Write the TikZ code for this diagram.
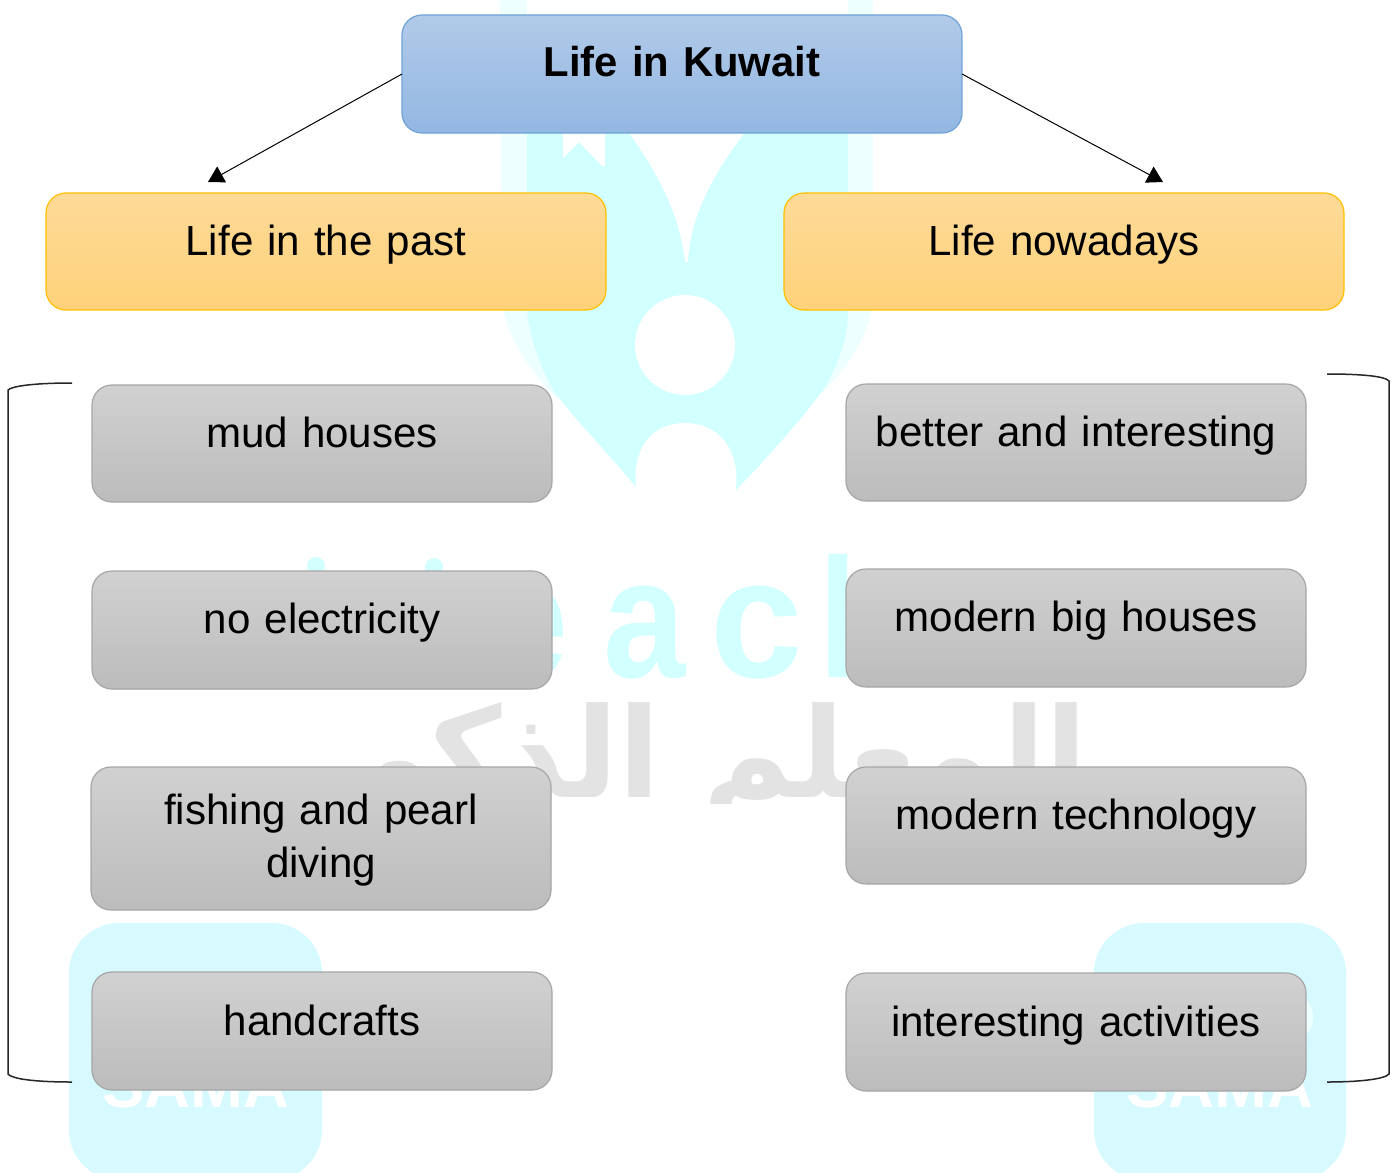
\documentclass[tikz,border=0pt]{standalone}
\usepackage{fontspec}
\setmainfont{Liberation Sans}
\newfontfamily\arabicfont[Script=Arabic]{DejaVu Sans}
\TeXXeTstate=1
\usetikzlibrary{arrows.meta}
\definecolor{wmcyan}{HTML}{D2FFFF}
\definecolor{wmpale}{HTML}{EEFFFF}
\definecolor{wmsq}{HTML}{D6FAFF}
\definecolor{wmgray}{HTML}{E3E3E3}
\definecolor{HeadBlue}{HTML}{6FA3D8}
\definecolor{HeadTop}{HTML}{B1CAE9}
\definecolor{HeadBot}{HTML}{93B7E2}
\definecolor{OrangeLine}{HTML}{FFC000}
\definecolor{OrangeTop}{HTML}{FEDA98}
\definecolor{OrangeBot}{HTML}{FED27A}
\definecolor{GrayLine}{HTML}{A6A6A6}
\definecolor{GrayTop}{HTML}{D1D1D1}
\definecolor{GrayBot}{HTML}{BCBCBC}
\tikzset{
  box/.style={rectangle,rounded corners=20pt,inner sep=0pt,outer sep=0pt,line width=1.2pt,anchor=north west,text width=#1,align=center,text=black,font=\fontsize{42.1}{53}\selectfont},
  box/.default=460pt,
  rootbox/.style={box=560pt,draw=HeadBlue,top color=HeadTop,bottom color=HeadBot,font=\fontsize{41.8}{53}\selectfont\bfseries},
  pastbox/.style={box=560pt,draw=OrangeLine,top color=OrangeTop,bottom color=OrangeBot},
  itembox/.style={box=460pt,draw=GrayLine,top color=GrayTop,bottom color=GrayBot},
  link/.style={line width=1pt,draw=black,-{Triangle[length=15.6pt,width=18pt]}},
  bracket/.style={line width=1.5pt,draw=black!85},
  wmletter/.style={inner sep=0pt,anchor=base,text=wmcyan,transform shape,font=\fontsize{170}{170}\selectfont\bfseries},
  samatext/.style={inner sep=0pt,anchor=base,text=white,font=\fontsize{63.5}{64}\selectfont\bfseries}
}
\begin{document}
\begin{tikzpicture}[x=1pt,y=-1pt]
\useasboundingbox (0,0) rectangle (1396,1172);
\fill[white] (0,0) rectangle (1396,1172);
% watermark
\begin{scope}
\clip (0,0) rectangle (1396,1172);
\fill[wmpale] (500,0) -- (502,300) .. controls (504,330) and (525,365) .. (555,397)
  -- (823,392) .. controls (845,370) and (868,340) .. (873,300) -- (873,0) -- cycle;
\fill[wmcyan] (527,125) -- (527,310) .. controls (530,340) and (540,365) .. (553,390)
  .. controls (575,420) and (610,455) .. (636,487)
  .. controls (632,450) and (650,423) .. (685,423)
  .. controls (720,423) and (740,450) .. (736,490)
  .. controls (770,455) and (805,415) .. (823,390)
  .. controls (838,365) and (848,340) .. (848,310) -- (848,125) -- cycle;
\fill[white] (623,125) .. controls (650,160) and (680,210) .. (685,262)
  -- (688,262) .. controls (690,210) and (720,165) .. (750,125) -- cycle;
\fill[white] (563,158) -- (563,125) -- (605,125) -- (605,166) -- (602,166) -- (579,142) -- cycle;
\fill[white] (685,345) circle (50);
\fill[white] (527,0) rectangle (848,14);
\fill[wmsq,rounded corners=50pt] (69,923) rectangle (322,1180);
\fill[wmsq,rounded corners=50pt] (1094,923) rectangle (1346,1180);
\fill[wmpale] (1298,1017) ellipse (15 and 21);
\node[samatext] (samaL) at (196,1107) {SAMA};
\node[samatext] (samaR) at (1220,1107) {SAMA};
\fill[wmcyan] (316,566) ellipse (9 and 9);
\fill[wmcyan] (434,567) ellipse (9 and 9);
\begin{scope}[xscale=0.8]
\node[wmletter] (wmE) at (530/0.8,677) {e};
\end{scope}
\begin{scope}[xscale=0.87]
\node[wmletter] (wmA) at (645/0.87,677) {a};
\end{scope}
\begin{scope}[xscale=0.98]
\node[wmletter] (wmC) at (757/0.98,677) {c};
\end{scope}
\begin{scope}[xscale=0.8]
\node[wmletter] (wmL) at (838.5/0.8,677) {l};
\end{scope}
\begin{scope}
\clip (300,690) rectangle (1200,803);
\begin{scope}[xscale=0.98]
\node[inner sep=0pt,anchor=base,transform shape,text=wmgray,font=\arabicfont\bfseries\fontsize{125}{125}\selectfont] (wmAr) at (697/0.98,797) {\beginR المعلم الذكي\endR};
\end{scope}
\end{scope}
\end{scope}
% main boxes
\node[rootbox,text height=62pt,text depth=56pt] (root) at (402,15) {Life in Kuwait};
\node[pastbox,text height=62pt,text depth=55pt] (past) at (46,193) {Life in the past};
\node[pastbox,text height=62pt,text depth=55pt] (now) at (784,193) {Life nowadays};
\node[itembox,text height=62pt,text depth=55pt] (p1) at (92,385) {mud houses};
\node[itembox,text height=62pt,text depth=56pt] (p2) at (92,571) {no electricity};
\node[itembox,text height=57pt,text depth=86pt] (p3) at (91,767) {fishing and pearl\\diving};
\node[itembox,text height=63pt,text depth=55pt] (p4) at (92,972) {handcrafts};
\node[itembox,text height=62pt,text depth=55pt] (n1) at (846,384) {better and interesting};
\node[itembox,text height=62pt,text depth=56pt] (n2) at (846,569) {modern big houses};
\node[itembox,text height=62pt,text depth=55pt] (n3) at (846,767) {modern technology};
\node[itembox,text height=63pt,text depth=55pt] (n4) at (846,973) {interesting activities};
% arrows
\coordinate (tipL) at (208,182);
\coordinate (tipR) at (1163,182);
\draw[link] (root.west) -- (tipL);
\draw[link] (root.east) -- (tipR);
% brackets
\coordinate (la) at (72,383);
\coordinate (lb) at (72,1082);
\coordinate (ra) at (1327,374);
\coordinate (rb) at (1327,1082);
\draw[bracket] (la) .. controls (35,383) and (12,386) .. (8,390) -- (8,1074) .. controls (12,1079) and (35,1082) .. (lb);
\draw[bracket] (ra) .. controls (1360,374) and (1385,376) .. (1389,381) -- (1389,1074) .. controls (1385,1079) and (1360,1082) .. (rb);
\end{tikzpicture}
\end{document}
